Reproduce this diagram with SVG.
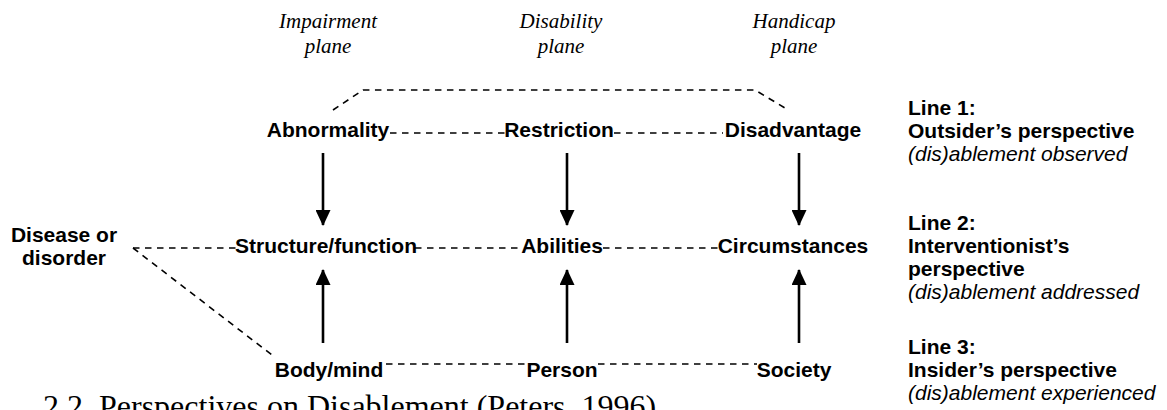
<svg xmlns="http://www.w3.org/2000/svg" width="1167" height="410" viewBox="0 0 1167 410">
  <defs>
    <marker id="head" viewBox="0 0 16 15" refX="15" refY="7.5" markerWidth="16" markerHeight="15" markerUnits="userSpaceOnUse" orient="auto">
      <path d="M0,0 L16,7.5 L0,15 Z" fill="#000"/>
    </marker>
    <style>
      .plane { font-family: "Liberation Serif", "Times New Roman", serif; font-style: italic; font-size: 21px; fill: #000; text-anchor: middle; }
      .node { font-family: "Liberation Sans", Arial, sans-serif; font-weight: bold; font-size: 21px; fill: #000; text-anchor: middle; }
      .side { font-family: "Liberation Sans", Arial, sans-serif; font-weight: bold; font-size: 21px; fill: #000; }
      .side-i { font-family: "Liberation Sans", Arial, sans-serif; font-style: italic; font-size: 21px; fill: #000; }
      .caption { font-family: "Liberation Serif", "Times New Roman", serif; font-size: 32px; fill: #000; }
      .dash { fill: none; stroke: #000; stroke-width: 1.6; stroke-dasharray: 6.5 5.5; }
      .arrow { fill: none; stroke: #000; stroke-width: 2.6; marker-end: url(#head); }
    </style>
  </defs>

  <rect width="1167" height="410" fill="#fff"/>

  <!-- plane headings -->
  <g id="heading-impairment">
    <text class="plane" x="328" y="28">Impairment</text>
    <text class="plane" x="328" y="53">plane</text>
  </g>
  <g id="heading-disability">
    <text class="plane" x="561" y="28">Disability</text>
    <text class="plane" x="561" y="53">plane</text>
  </g>
  <g id="heading-handicap">
    <text class="plane" x="794" y="28">Handicap</text>
    <text class="plane" x="794" y="53">plane</text>
  </g>

  <!-- connectors -->
  <g id="connectors">
    <!-- line 1 -->
    <polyline class="dash" points="333,110 363,90 755,90 785,108"/>
    <line class="dash" x1="390" y1="133" x2="505" y2="133"/>
    <line class="dash" x1="614" y1="133" x2="723" y2="133"/>
    <!-- line 2 -->
    <line class="dash" x1="133" y1="248" x2="237" y2="248"/>
    <line class="dash" x1="415" y1="248" x2="522" y2="248"/>
    <line class="dash" x1="603" y1="248" x2="718" y2="248"/>
    <line class="dash" x1="133" y1="248" x2="272" y2="355"/>
    <!-- line 3 -->
    <line class="dash" x1="386" y1="364" x2="526" y2="364"/>
    <line class="dash" x1="598" y1="364" x2="757" y2="364"/>
    <!-- downward arrows -->
    <line class="arrow" x1="323" y1="153" x2="323" y2="225"/>
    <line class="arrow" x1="567" y1="153" x2="567" y2="225"/>
    <line class="arrow" x1="799" y1="153" x2="799" y2="225"/>
    <!-- upward arrows -->
    <line class="arrow" x1="323" y1="343" x2="323" y2="270"/>
    <line class="arrow" x1="567" y1="343" x2="567" y2="270"/>
    <line class="arrow" x1="799" y1="343" x2="799" y2="270"/>
  </g>

  <!-- nodes -->
  <g id="node-abnormality"><text class="node" x="328" y="137">Abnormality</text></g>
  <g id="node-restriction"><text class="node" x="559" y="137">Restriction</text></g>
  <g id="node-disadvantage"><text class="node" x="793" y="137">Disadvantage</text></g>

  <g id="node-disease">
    <text class="node" x="64" y="242">Disease or</text>
    <text class="node" x="64" y="265">disorder</text>
  </g>
  <g id="node-structure"><text class="node" x="326" y="253">Structure/function</text></g>
  <g id="node-abilities"><text class="node" x="562" y="253">Abilities</text></g>
  <g id="node-circumstances"><text class="node" x="793" y="253">Circumstances</text></g>

  <g id="node-bodymind"><text class="node" x="329" y="377">Body/mind</text></g>
  <g id="node-person"><text class="node" x="562" y="377">Person</text></g>
  <g id="node-society"><text class="node" x="794" y="377">Society</text></g>

  <!-- perspective legend -->
  <g id="legend-line1">
    <text class="side" x="908" y="115">Line 1:</text>
    <text class="side" x="908" y="138">Outsider’s perspective</text>
    <text class="side-i" x="908" y="161">(dis)ablement observed</text>
  </g>
  <g id="legend-line2">
    <text class="side" x="908" y="230">Line 2:</text>
    <text class="side" x="908" y="253">Interventionist’s</text>
    <text class="side" x="908" y="276">perspective</text>
    <text class="side-i" x="908" y="299">(dis)ablement addressed</text>
  </g>
  <g id="legend-line3">
    <text class="side" x="908" y="354">Line 3:</text>
    <text class="side" x="908" y="377">Insider’s perspective</text>
    <text class="side-i" x="908" y="400">(dis)ablement experienced</text>
  </g>

  <!-- figure caption -->
  <text class="caption" x="43" y="417">2.2. Perspectives on Disablement (Peters, 1996)</text>
</svg>
